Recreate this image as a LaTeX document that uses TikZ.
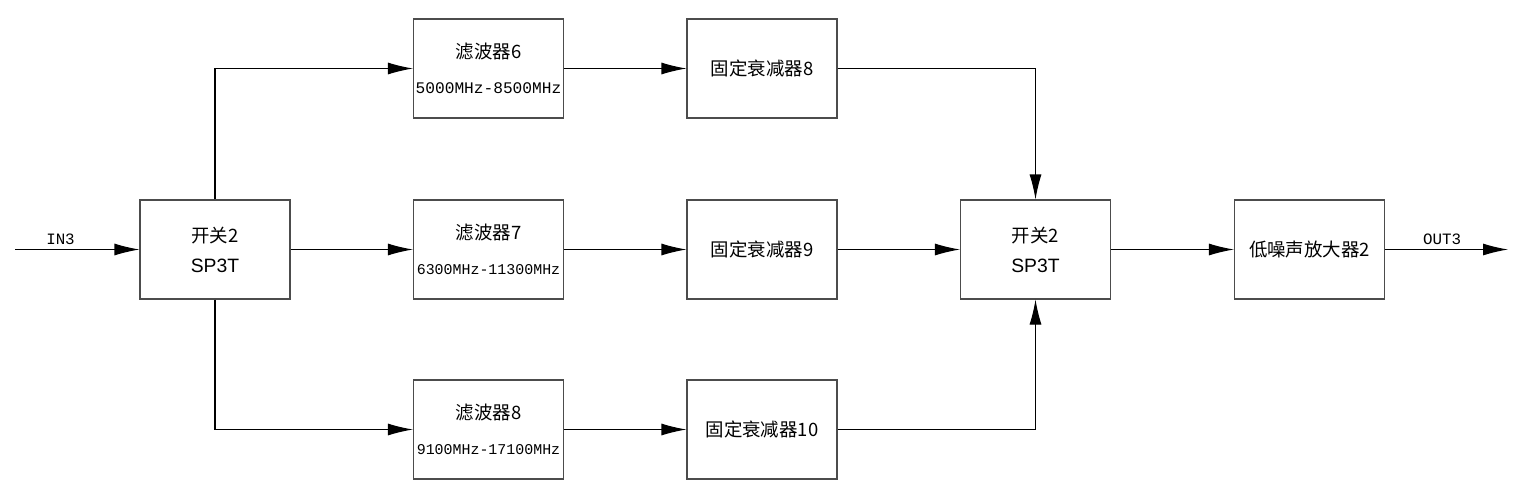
\documentclass[tikz,border=0pt]{standalone}
\usepackage{fontspec}
\setmainfont{Noto Sans CJK SC}
\setsansfont{Liberation Sans}
\setmonofont{Liberation Mono}
\usetikzlibrary{arrows.meta,positioning}

\begin{document}
\begin{tikzpicture}
		[-{Latex[length=0.5cm,width=0.24cm]},line width=0.6pt,
		every node/.style={inner sep=0pt},
		block/.style={shape=rectangle,draw=black!70,line width=0.6pt,minimum width=3cm,
			minimum height=1.98cm,align=center,font=\fontsize{10.5}{17}\selectfont},
		portlabel/.style={font=\ttfamily\fontsize{9}{10}\selectfont,anchor=base}]
		\useasboundingbox (0,0) rectangle (30.46,10.06);
		% switches and amplifier
		\node[block] (sw1) at (4.30,5.07) {开关2\\{\sffamily\fontsize{11}{17}\selectfont SP3T}};
		\node[block] (sw2) at (20.71,5.07) {开关2\\{\sffamily\fontsize{11}{17}\selectfont SP3T}};
		\node[block] (lna) at (26.19,5.07) {低噪声放大器2};
		% filters
		\node[block] (f6) at (9.77,8.69) {滤波器6\\[3pt]{\ttfamily\fontsize{9.2}{17}\selectfont 5000MHz-8500MHz}};
		\node[block] (f7) at (9.77,5.07) {滤波器7\\[3pt]{\ttfamily\fontsize{8.5}{17}\selectfont 6300MHz-11300MHz}};
		\node[block] (f8) at (9.77,1.47) {滤波器8\\[3pt]{\ttfamily\fontsize{8.5}{17}\selectfont 9100MHz-17100MHz}};
		% attenuators
		\node[block] (a8) at (15.24,8.69) {固定衰减器8};
		\node[block] (a9) at (15.24,5.07) {固定衰减器9};
		\node[block] (a10) at (15.24,1.47) {固定衰减器10};
		% ports
		\coordinate (in) at (0.30,5.07);
		\coordinate (out) at (30.16,5.07);
		\node[portlabel] (inlbl) at (1.21,5.17) {IN3};
		\node[portlabel] (outlbl) at (28.84,5.17) {OUT3};
		\path
		\foreach \startNode/\endNode in {in/sw1,sw1/f7,f6/a8,f7/a9,f8/a10,a9/sw2,sw2/lna,lna/out}
		{
			(\startNode) edge (\endNode)
		};
		\draw (sw1.north) |- (f6.west);
		\draw (sw1.south) |- (f8.west);
		\draw (a8.east) -| (sw2.north);
		\draw (a10.east) -| (sw2.south);
		\end{tikzpicture}
\end{document}
